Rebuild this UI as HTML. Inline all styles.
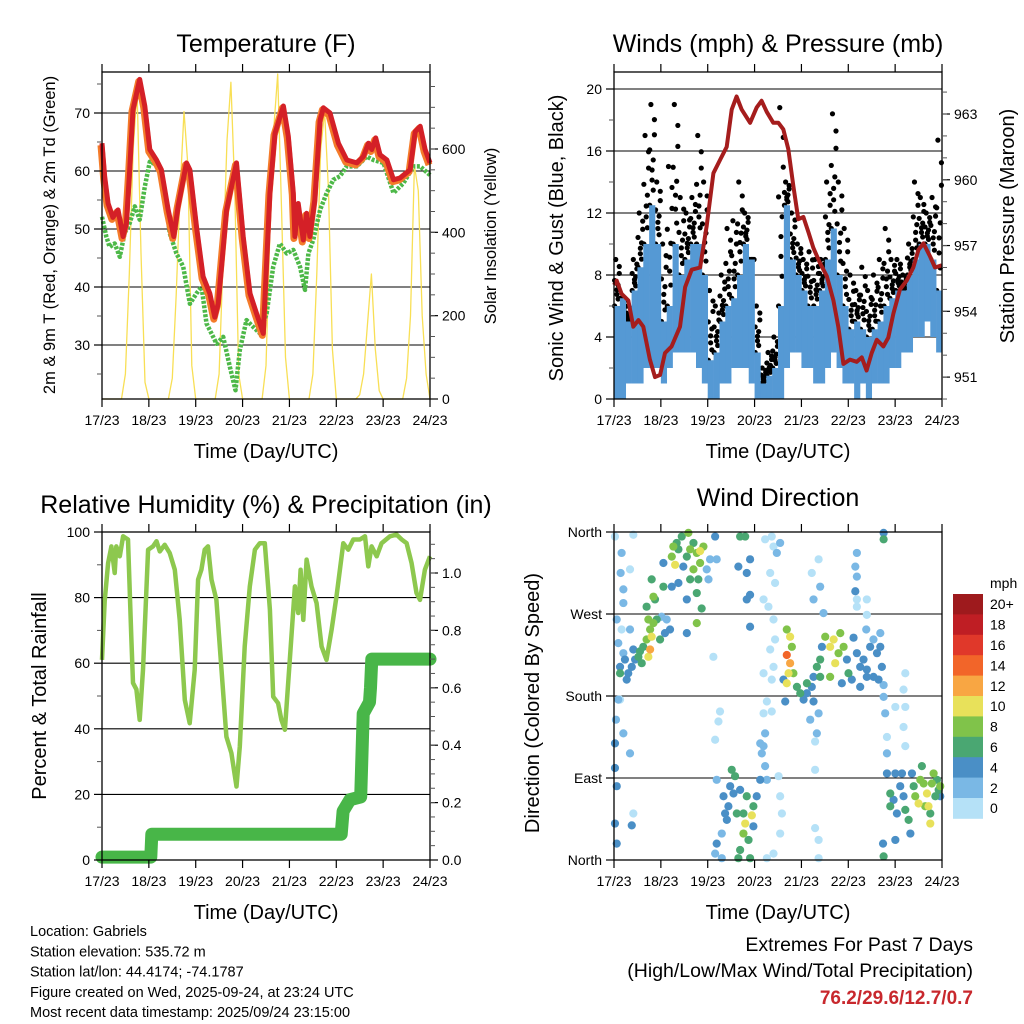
<!DOCTYPE html>
<html><head><meta charset="utf-8"><style>
html,body{margin:0;padding:0;background:#fff;}
svg{display:block;font-family:"Liberation Sans",sans-serif;}
</style></head><body>
<svg id="c" width="1024" height="1024" viewBox="0 0 1024 1024" xmlns="http://www.w3.org/2000/svg"></svg>
<script>
// ---------- DATA ----------
const dayLabels = ["17/23","18/23","19/23","20/23","21/23","22/23","23/23","24/23"];
// Temperature (hours since start, F)
const tempHours = [0,1.4,3.1,5.6,8.2,10.8,12.5,14.2,15.9,19.3,21.9,24.5,27.9,30.4,33.9,36.8,39,43.3,45,48.4,51.8,55.2,57.8,59.5,63.8,68.9,72.3,75.8,79.2,82.6,86,88.6,92.9,95.4,98,98.8,100.5,103.1,104.8,106.5,109,111.7,113.4,116.8,121.1,125.4,130.5,133.9,136.5,138.2,140.2,142.4,145.9,149.3,152.7,157.8,160.4,163,165.5,168];
const tempF = [64.8,59,54.4,52,53.3,48.7,51,60.2,70.6,75.8,71.2,63.7,61.9,60.2,53.3,48.7,53.9,61.4,60.2,50.4,41.8,38.9,34.8,37.1,53.3,61.4,48.7,38.9,35.4,32,56.2,66.5,71.2,66,56.2,48.7,54.4,48.1,52.7,48.7,55,68.8,70.9,70,64.8,61.9,61.4,62.5,64.8,63.7,65.7,62.8,61.9,58.5,58.8,60.2,66.8,67.7,63.7,61.4];
const dewHours = [0,2.2,3.9,6.5,9.1,11.6,14.2,16.8,19.3,21.9,24.5,29.6,32.1,34.7,38.1,41.6,45,48.4,51,53.5,58.7,62.1,65.5,68.4,70.6,74,77.5,80.9,84.3,87.7,91.1,94.6,98,101.4,104,105.7,108.2,111.7,115.1,118.5,121.9,125.3,130.5,135.6,139,144.2,149.3,154.4,159.5,163,168];
const dewF = [52.1,48.7,46.9,47.5,45.2,49.3,51,53.9,51.6,57.3,61.6,60.8,56.2,49.3,45.8,43.5,37.1,38.9,40,33.7,30.2,31.4,26.2,22.2,29.1,34.3,33.1,32,35.4,43.5,47.5,45.8,46.4,43.5,39.5,45.8,48.1,53.3,56.2,58.5,59.1,60.8,60.8,62.5,61.9,61.4,56.2,57.9,60.8,60.8,59.3];
// Solar insolation every 2 hours (W/m2)
const solar = [0,0,0,0,0,0,60,300,600,740,350,40,
               0,0,0,0,0,0,50,250,500,690,560,80,
               0,0,0,0,0,0,60,330,620,760,500,60,
               0,0,0,0,0,0,80,400,650,780,450,100,
               0,0,0,0,0,0,60,300,600,690,500,120,
               0,0,0,0,0,0,10,60,180,300,120,20,
               0,0,0,0,0,0,50,200,560,500,200,60,0];
// Wind (3-hour bins, mph)
const windMin = [0,0,1,1,1,2,2,2, 1,2,3,3,3,3,2,1, 0,0,1,1,2,2,2,1, 0,0,0,0,0,2,3,3, 2,2,1,1,2,3,2,1, 1,0,1,0,1,1,1,2, 2,3,3,4,4,5,4,3];
const windMax = [6,6.5,5,7,8.5,10,12.5,10, 5,6,10,8,9,10,10,8, 2.5,3,5,6,6.5,8,10,9, 3,1,1.5,2,6,12.5,9,8, 7,6,6,7,9,11,8,6, 4.5,5,4.5,4,4.5,5,6,6.5, 7,7,8,9,10,10,9,7];
const gustMax = [9,5,6,9,12,17,19,14, 10,15,19,13,12,13,17,14, 7,6,8,11,11.5,14,12,9, 6,2,3,4,18.8,14,12,10, 9,9.5,9,9,14,18.4,14,11, 8,7,8.5,7,8,9,11,9, 9,8,10,14,13,12,13,16.7];
// Pressure (mb)
const presHours = [0,1.4,3.9,7.3,9.9,12.5,15,18.4,21,23.6,26.1,29.5,33.8,36.4,39.8,44.1,47.5,50.9,54.3,57.7,60.3,62.8,65.4,69.7,73.1,75.6,78.2,81.6,84.2,86.7,89.3,91.9,94.4,97,99.6,102.1,105.5,109,112.4,114.9,117.5,120.9,124.3,126.9,129.4,132,134.6,138,140.5,143.1,146.5,149.9,153.3,155.9,158.5,161.9,164.4,167.9];
const presMb = [955.2,955.4,954.8,954.5,953.3,953.6,953.3,951.8,951,951.1,952.1,952.4,953.3,955.1,955.9,956,957.9,960.3,960.9,961.5,963.2,963.8,963.2,962.6,963.3,963.6,963.1,962.6,962.6,962.3,961.4,959.7,958.2,958.3,957.6,956.9,956.2,955.6,954.5,953.3,951.6,951.8,951.7,951.9,951.3,952.1,952.7,952.4,952.8,953.9,955,955.4,956,956.8,957.1,956.5,956,956.1];
// Relative humidity (%)
const rhHours = [0,1.4,3.1,4.8,6.5,7.3,9.1,10.8,13.3,15,15.9,17.6,19.3,21,23.6,26.1,27.9,29.6,32.1,34.7,37.3,39.8,42.4,44.9,47.5,49.2,50.9,52.6,54.3,56.1,58.6,61.2,63.7,66.3,68.9,70.6,73.1,75.7,78.3,80.8,83.4,86,87.7,90.2,91.9,93.7,96.2,98.8,100.5,101.7,103.1,104.8,107.3,109.9,112.5,115,117.6,120.1,123.6,126.1,128.7,132.1,134.7,136.4,138.1,140.7,143.2,147.5,150.9,153.5,156,158.6,161.1,162.9,165.4,168];
const rhPct = [61,79,90.5,95.6,87.5,95.6,92.6,98.7,97.7,68,54,52,42.7,58,94.6,95.6,97.2,94.1,96.1,93.6,88.5,73.2,48.8,41.7,58,85.5,88.5,94.6,95.6,85.5,79.3,58,37.6,32.6,22.4,34.6,65.1,83.4,94.6,96.6,96.6,76.3,49.8,47.8,42.7,39.7,61,83.4,75.3,88.5,73.2,91.6,83.4,78.3,65.1,61,70.2,80.4,96.6,94.6,97.7,97.7,98.7,89.5,95.6,92.6,96.6,98.7,99.2,97.7,96.6,90.5,81.4,79.3,88.5,92.6];
// Precipitation total (in)
const prHours = [0,25,25.5,122.5,123.5,127,132.5,133.8,137,137.5,138.2,168];
const prIn = [0.01,0.01,0.09,0.09,0.17,0.21,0.22,0.51,0.55,0.6,0.7,0.7];
// Wind direction scatter (hours, degrees, mph)
const dirHours = [3.1,5.6,7.3,9.1,10.8,6.5,4.8,2.2,9.9,12.5,14.2,13.3,15,16.7,18.5,17.6,20.2,19.3,18.5,17.6,16.7,21,21.9,24.4,27,28.7,26.1,23.6,3.1,
0.5,3.9,3.4,4.8,8.2,9.9,4.8,1.4,3.9,8.2,3.1,1,4.8,0.5,8.2,1.4,0.5,1.4,9.9,9.1,0.5,2.2,
25.3,25.3,29.6,30.4,31.3,33,34.7,35.5,37.3,38.1,39,40.7,42.4,44.1,45.8,44.1,43.2,42.4,44.9,47.5,49.2,48.4,37.3,33,29.6,37.3,42.4,32.1,40.7,39,19.3,20.2,
51.8,52.6,50.9,54.3,53.5,51.8,64.6,67.2,69.7,68,63.7,69.7,68,69.7,
52.6,56.1,58.6,57.8,60.3,62,61.2,62.9,66.3,67.2,66.3,70.6,71.4,68.9,64.6,69.7,63.7,73.1,74.9,75.7,74.9,71.4,52.6,51.8,55.2,56.9,59.5,64.6,68,55.2,
77.4,80.8,81.7,83.4,80,82.5,76.6,79.1,81.7,82.5,80,81.7,76.6,80.8,78.3,76.6,80.8,77.4,76.6,77.4,78.3,84.3,85.1,86,85.1,81.7,78.3,85.1,
88.5,90.2,88.5,90.2,89.4,88.5,91.1,91.9,93.7,95.4,97.1,98.8,101.3,102.2,103.9,105.6,106.5,108.2,110.7,112.5,113.3,115,115.9,117.6,119.3,120.1,110.7,105.6,102.2,98.8,87.7,86.8,100.5,104.8,103.9,
104.8,101.3,105.6,102.2,107.3,103,103,103,104.8,104.8,
122.7,124.4,126.1,127.8,129.5,131.2,132.9,134.7,136.4,137.2,135.5,126.1,129.5,132.9,138.1,121.8,116.7,
124.4,123.6,124.4,123.6,124.4,124.4,129.5,129.5,129.2,
138.1,138.9,139.8,139.8,139.8,141.5,141.5,143.2,144.9,144.1,144.1,146.6,147.5,148.3,149.2,150.9,151.8,152.6,153.5,154.3,156,156.9,157.7,158.6,160.3,161.1,162,162.8,163.7,165.4,166.3,167.1,162,159.4,164.6,167.1,149.2,148.3,149.2,148.3,149.2,138.1,137.8,138.1,138.1,144.1,136.4];
const dirDeg = [212,220,205,212,220,198,227,238,231,223,216,229,234,242,253,264,260,245,231,223,278,286,264,267,264,253,249,242,205,
355,337,315,297,319,357,282,264,253,253,176,154,139,128,117,81,40,18,51,38,101,176,
300,326,333,344,324,341,355,322,333,359,341,348,337,326,344,339,308,293,276,319,330,308,286,304,300,249,260,348,319,308,308,289,
355,330,223,163,152,132,355,355,330,315,322,291,286,256,
88,70,59,44,99,92,73,51,51,40,29,49,59,22,11,2,2,70,88,117,128,37,18,7,2,51,81,77,70,29,
352,355,344,337,315,304,286,278,264,242,231,212,205,198,174,161,163,139,125,103,88,92,70,51,29,7,2,348,
253,245,225,216,205,194,234,205,190,183,176,183,190,201,212,220,234,245,234,242,216,227,249,234,220,205,201,201,174,194,174,198,154,161,139,
330,315,300,286,271,130,99,35,22,2,
244,227,212,220,209,234,242,227,249,212,198,190,201,201,192,198,194,
337,322,311,295,286,278,286,269,253,
179,161,135,117,95,73,59,66,51,22,95,81,95,70,55,44,29,95,81,70,62,88,103,84,73,59,40,84,95,88,77,81,51,59,70,70,205,187,168,146,125,4,18,352,359,168,234];
const dirSpeed = [4,4,4,4,4,4,2,2,4,6,6,6,6,8,8,8,8,10,12,10,6,6,6,2,2,4,4,6,6,
0,2,2,2,0,0,2,2,0,2,0,2,2,4,2,4,4,4,0,4,4,2,
6,4,8,8,10,6,6,4,6,8,8,6,8,8,8,10,6,6,6,2,2,2,4,4,4,4,8,6,8,6,6,8,
4,2,0,0,0,0,6,6,4,4,4,4,4,4,
2,4,4,4,6,6,4,6,6,10,8,10,6,6,6,6,6,4,4,2,2,4,4,2,2,4,4,4,6,2,
0,0,0,2,0,0,0,0,0,0,0,0,0,0,0,0,0,2,2,2,2,0,0,0,0,0,0,2,
8,10,14,12,10,10,8,8,6,6,4,4,4,4,6,6,4,8,10,10,10,8,8,8,4,6,8,6,4,6,4,4,2,2,2,
0,0,2,2,2,0,0,0,0,0,
4,4,4,4,4,4,2,4,2,4,4,4,4,4,2,4,4,
2,2,2,4,0,0,0,0,2,
2,2,0,2,4,6,6,4,4,4,4,4,4,4,6,6,4,4,6,8,10,8,6,8,10,10,10,8,8,6,6,8,6,8,6,4,0,0,0,0,0,6,4,6,4,0,4];
const speedLabels = ["0","2","4","6","8","10","12","14","16","18","20+"];
const speedColors = ["#b5e1f7","#7ab8e5","#4a8fc6","#4aa772","#80c34a","#e8e15a","#f8a643","#f26529","#e0382a","#bf1e24","#9e1a1d"];

// ---------- DRAW ----------
const NS = "http://www.w3.org/2000/svg";
const svg = document.getElementById('c');
function mk(tag, attrs, parent){
  const e = document.createElementNS(NS, tag);
  for (const k in attrs) e.setAttribute(k, attrs[k]);
  (parent||svg).appendChild(e);
  return e;
}
function txt(s, x, y, size, anchor, extra, parent){
  const t = mk('text', Object.assign({x:x, y:y, 'font-size':size, 'text-anchor':anchor||'middle', fill:'#000'}, extra||{}), parent);
  t.textContent = s;
  return t;
}
function lin(a0,a1,b0,b1){ return v => b0 + (v-a0)/(a1-a0)*(b1-b0); }

function panel(name){
  const g = mk('g', {});
  
  
  return g;
}
function frame(g, x0,x1,y0,y1, labelY){
  mk('rect',{x:x0,y:y0,width:x1-x0,height:y1-y0,fill:'none',stroke:'#000','stroke-width':1.3},g);
  const xs = lin(0,168,x0,x1);
  const ax = mk('g',{},g);
  
  
  for (let i=0;i<dayLabels.length;i++){
    const x = xs(i*24);
    mk('line',{x1:x,x2:x,y1:y0-8,y2:y0,stroke:'#000','stroke-width':1.2},ax);
    mk('line',{x1:x,x2:x,y1:y1,y2:y1+8,stroke:'#000','stroke-width':1.2},ax);
    const t = txt(dayLabels[i], x, y1+26, 14, 'middle', {}, ax);
    
    
  }
  const tt = txt('Time (Day/UTC)', (x0+x1)/2, labelY, 20, 'middle', {}, g);
  
  
  return xs;
}
function leftTicks(g, vals, labels, ys, x0, minorVals){
  for (let i=0;i<vals.length;i++){
    const y = ys(vals[i]);
    mk('line',{x1:x0-8,x2:x0,y1:y,y2:y,stroke:'#000','stroke-width':1.2},g);
    const t = txt(labels[i], x0-12, y+5, 14, 'end', {}, g);
    
    
  }
  (minorVals||[]).forEach(v=>{ const y=ys(v); mk('line',{x1:x0-5,x2:x0,y1:y,y2:y,stroke:'#555','stroke-width':1},g); });
}
function rightTicks(g, vals, labels, ys, x1, minorVals){
  for (let i=0;i<vals.length;i++){
    const y = ys(vals[i]);
    mk('line',{x1:x1,x2:x1+8,y1:y,y2:y,stroke:'#000','stroke-width':1.2},g);
    const t = txt(labels[i], x1+12, y+5, 14, 'start', {}, g);
    
    
  }
  (minorVals||[]).forEach(v=>{ const y=ys(v); mk('line',{x1:x1,x2:x1+5,y1:y,y2:y,stroke:'#555','stroke-width':1},g); });
}
function grid(g, vals, ys, x0, x1){
  vals.forEach(v=>{ const y=ys(v); mk('line',{x1:x0,x2:x1,y1:y,y2:y,stroke:'#000','stroke-width':1.1},g); });
}
function vlabel(g, s, x, yc, size, name){
  const t = txt(s, x, yc, size, 'middle', {transform:`rotate(-90 ${x} ${yc})`,'dominant-baseline':'central'}, g);
  
  
}
function path(xsArr, ysArr, xs, ys){
  return xsArr.map((h,i)=>(i?'L':'M')+xs(h).toFixed(1)+','+ys(ysArr[i]).toFixed(1)).join(' ');
}
function range(a,b,s){ const r=[]; for(let v=a; v<=b+1e-9; v+=s) r.push(+v.toFixed(3)); return r; }

// ===== Panel 1: Temperature =====
(function(){
  const x0=102,x1=430,y0=72,y1=399;
  const g = panel('temperature-panel');
  const xs = lin(0,168,x0,x1);
  const ys = lin(30,70,345,113);
  const ysS = lin(0,600,399,149);
  const t = txt('Temperature (F)', (x0+x1)/2, 52, 25, 'middle', {}, g);
   
  grid(g,[30,40,50,60,70],ys,x0,x1);
  const sh = solar.map((v,i)=>i*2);
  const sp = mk('path',{d:path(sh,solar,xs,ysS),fill:'none',stroke:'#f8df55','stroke-width':1.3,'stroke-linejoin':'round'},g);
   
  const dp = mk('path',{d:path(dewHours,dewF,xs,ys),fill:'none',stroke:'#4db848','stroke-width':4.5,'stroke-dasharray':'3 1.5','stroke-linejoin':'round'},g);
   
  const op = mk('path',{d:path(tempHours,tempF,xs,ys),fill:'none',stroke:'#f47b2a','stroke-width':7,'stroke-linejoin':'round',transform:'translate(-1,2)'},g);
   
  const rp = mk('path',{d:path(tempHours,tempF,xs,ys),fill:'none',stroke:'#d42027','stroke-width':5,'stroke-linejoin':'round'},g);
   
  frame(g,x0,x1,y0,y1,458);
  leftTicks(g,[30,40,50,60,70],['30','40','50','60','70'],ys,x0,[25,35,45,55,65,75]);
  rightTicks(g,[0,200,400,600],['0','200','400','600'],ysS,x1,range(50,750,50));
  vlabel(g,'2m & 9m T (Red, Orange) & 2m Td (Green)',50,235,16.5,'y-axis-title');
  vlabel(g,'Solar Insolation (Yellow)',491,236,16.5,'y2-axis-title');
})();

// ===== Panel 2: Winds & Pressure =====
(function(){
  const x0=614,x1=942,y0=72,y1=399;
  const g = panel('winds-panel');
  const xs = lin(0,168,x0,x1);
  const ys = lin(0,20,399,89);
  const ysP = lin(951,963,377.1,114);
  const t = txt('Winds (mph) & Pressure (mb)', (x0+x1)/2, 52, 25, 'middle', {}, g);
   
  grid(g,[4,8,12,16,20],ys,x0,x1);
  const gg = mk('g',{},g);
   
  const fr = [0,0.35,0.7,1,0.15,0.55,0.85,0.25,0.45];
  const off = [-2,0,2,-1,1,-2,2,0,1];
  for (let i=0;i<gustMax.length;i++){
    const hc = i*3+1.5;
    for (let k=0;k<fr.length;k++){
      const v = windMax[i] + (gustMax[i]-windMax[i])*fr[k];
      const c = mk('circle',{cx:xs(hc+off[k]*0.6),cy:ys(v),r:2.6,fill:'#000'},gg);
       
    }
  }
  const wg = mk('g',{},g);
   
  for (let i=0;i<windMax.length;i++){
    const xa = xs(i*3), xb = xs(i*3+3);
    const r = mk('rect',{x:xa,y:ys(windMax[i]),width:xb-xa+0.3,height:ys(windMin[i])-ys(windMax[i]),fill:'#5599d4'},wg);
     
  }
  const pp = mk('path',{d:path(presHours,presMb,xs,ysP),fill:'none',stroke:'#a51d1d','stroke-width':4,'stroke-linejoin':'round'},g);
   
  frame(g,x0,x1,y0,y1,458);
  leftTicks(g,[0,4,8,12,16,20],['0','4','8','12','16','20'],ys,x0,[2,6,10,14,18]);
  rightTicks(g,[951,954,957,960,963],['951','954','957','960','963'],ysP,x1,range(950,964,1));
  vlabel(g,'Sonic Wind & Gust (Blue, Black)',557,238,20,'y-axis-title');
  vlabel(g,'Station Pressure (Maroon)',1008,226,20,'y2-axis-title');
})();

// ===== Panel 3: RH & Precip =====
(function(){
  const x0=102,x1=430,y0=532,y1=860;
  const g = panel('humidity-panel');
  const xs = lin(0,168,x0,x1);
  const ys = lin(0,100,860,532);
  const ysR = lin(0,1,860,573);
  const t = txt('Relative Humidity (%) & Precipitation (in)', 266, 513, 25, 'middle', {}, g);
   
  grid(g,[20,40,60,80],ys,x0,x1);
  const rp = mk('path',{d:path(rhHours,rhPct,xs,ys),fill:'none',stroke:'#8dc84e','stroke-width':4.5,'stroke-linejoin':'round'},g);
   
  const pp = mk('path',{d:path(prHours,prIn,xs,ysR),fill:'none',stroke:'#48b648','stroke-width':13,'stroke-linejoin':'round','stroke-linecap':'round'},g);
   
  frame(g,x0,x1,y0,y1,919);
  leftTicks(g,[0,20,40,60,80,100],['0','20','40','60','80','100'],ys,x0,[10,30,50,70,90]);
  rightTicks(g,[0,0.2,0.4,0.6,0.8,1.0],['0.0','0.2','0.4','0.6','0.8','1.0'],ysR,x1,range(0.05,1.1,0.05));
  vlabel(g,'Percent & Total Rainfall',40,696,20,'y-axis-title');
})();

// ===== Panel 4: Wind Direction =====
(function(){
  const x0=614,x1=942,y0=532,y1=860;
  const g = panel('wind-direction-panel');
  const xs = lin(0,168,x0,x1);
  const ys = lin(0,360,860,532);
  const t = txt('Wind Direction', (x0+x1)/2, 506, 25, 'middle', {}, g);
   
  grid(g,[90,180,270],ys,x0,x1);
  const dg = mk('g',{},g);
   
  const order = dirSpeed.map((s,i)=>i).sort((a,b)=>dirSpeed[a]-dirSpeed[b]);
  order.forEach(i=>{
    const ci = Math.min(10, Math.round(dirSpeed[i]/2));
    const c = mk('circle',{cx:xs(dirHours[i]),cy:ys(dirDeg[i]),r:4.1,fill:speedColors[ci]},dg);
     
  });
  frame(g,x0,x1,y0,y1,919);
  leftTicks(g,[0,90,180,270,360],['North','East','South','West','North'],ys,x0,[]);
  vlabel(g,'Direction (Colored By Speed)',533,703,20,'y-axis-title');
  const cb = mk('g',{},g);
   
  const bx=953, bw=30, btop=594, bh=20.4;
  txt('mph', 990, 588, 14, 'start', {}, cb);
  for (let k=0;k<speedColors.length;k++){
    const idx = speedColors.length-1-k;
    const r = mk('rect',{x:bx,y:btop+k*bh,width:bw,height:bh+0.4,fill:speedColors[idx]},cb);
     
    const l = txt(speedLabels[idx], 990, btop+k*bh+bh/2+5, 14, 'start', {}, cb);
     
  }
})();

// ===== Footer text =====
(function(){
  const g = mk('g',{});
   
  const lines = ['Location: Gabriels','Station elevation: 535.72 m','Station lat/lon: 44.4174; -74.1787','Figure created on Wed, 2025-09-24, at 23:24 UTC','Most recent data timestamp: 2025/09/24 23:15:00'];
  lines.forEach((s,i)=>txt(s, 30, 936+i*20.3, 14.5, 'start', {}, g));
  const e = mk('g',{});
   
  txt('Extremes For Past 7 Days', 973, 951, 19.5, 'end', {}, e);
  txt('(High/Low/Max Wind/Total Precipitation)', 973, 977, 19.5, 'end', {}, e);
  txt('76.2/29.6/12.7/0.7', 973, 1004, 19, 'end', {fill:'#c8282d','font-weight':'bold'}, e);
})();
</script>
</body></html>
